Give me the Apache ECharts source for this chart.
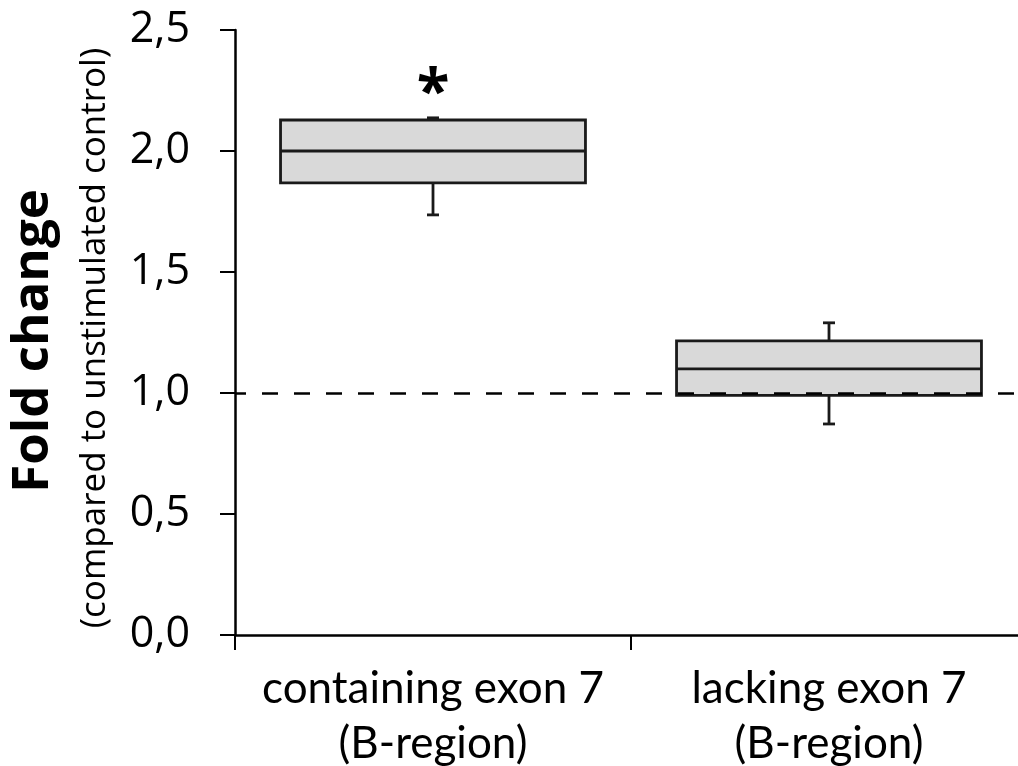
<!DOCTYPE html>
<html>
<head>
<meta charset="utf-8">
<script src="https://cdn.jsdelivr.net/npm/echarts@6/dist/echarts.min.js"></script>
<style>html,body{margin:0;padding:0;background:#fff}#c{width:1018px;height:766px}</style>
</head>
<body>
<div id="c"></div>
<script>
const categories = ['containing exon 7\n(B-region)', 'lacking exon 7\n(B-region)'];
const whiskerLow  = [1.736, 0.872];
const q1          = [1.868, 0.990];
const median      = [2.000, 1.100];
const q3          = [2.128, 1.215];
const whiskerHigh = [2.137, 1.290];
const significance = ['*', ''];
const yMin = 0, yMax = 2.5, yInterval = 0.5;
const referenceLine = 1.0;

const data = categories.map((c, i) => [i, whiskerLow[i], q1[i], median[i], q3[i], whiskerHigh[i]]);

const chart = echarts.init(document.getElementById('c'));
chart.setOption({
  animation: false,
  grid: { left: 235, top: 30, right: -9, bottom: 131, containLabel: false, outerBoundsMode: 'none' },
  xAxis: {
    type: 'category',
    data: categories,
    boundaryGap: true,
    axisLine: { lineStyle: { color: '#000', width: 2.5 } },
    axisTick: { show: true, length: 15, alignWithLabel: false, lineStyle: { color: '#000', width: 2 } },
    axisLabel: { color: '#000', fontFamily: 'Lato', fontSize: 44, lineHeight: 55, margin: 26, interval: 0 },
    splitLine: { show: false }
  },
  yAxis: {
    type: 'value',
    min: yMin, max: yMax, interval: yInterval,
    axisLine: { show: true, lineStyle: { color: '#000', width: 2.5 } },
    axisTick: { show: true, length: 15, lineStyle: { color: '#000', width: 2 } },
    axisLabel: { color: '#000', fontFamily: 'Open Sans', fontSize: 43, margin: 45,
      formatter: v => v.toFixed(1).replace('.', ',') },
    splitLine: { show: false }
  },
  graphic: [
    { type: 'text', x: 33, y: 341, rotation: Math.PI / 2,
      style: { text: 'Fold change', font: 'bold 51px "Open Sans"', fill: '#000', textAlign: 'center', textVerticalAlign: 'middle' } },
    { type: 'text', x: 95, y: 338, rotation: Math.PI / 2,
      style: { text: '(compared to unstimulated control)', font: '35px "Open Sans"', fill: '#000', textAlign: 'center', textVerticalAlign: 'middle' } }
  ],
  series: [{
    type: 'custom',
    data: data,
    clip: false,
    encode: { x: 0, y: [1, 2, 3, 4, 5] },
    renderItem: function (params, api) {
      const i = api.value(0);
      const cx = api.coord([i, 0])[0];
      const w = api.size([1, 0])[0] * 0.77;
      const yLow = api.coord([i, api.value(1)])[1];
      const yQ1 = api.coord([i, api.value(2)])[1];
      const yMed = api.coord([i, api.value(3)])[1];
      const yQ3 = api.coord([i, api.value(4)])[1];
      const yHigh = api.coord([i, api.value(5)])[1];
      const cap = 6;
      const ls = { stroke: '#1a1a1a', lineWidth: 2.8 };
      return {
        type: 'group',
        children: [
          { type: 'line', shape: { x1: cx, y1: yQ3, x2: cx, y2: yHigh }, style: ls },
          { type: 'line', shape: { x1: cx - cap, y1: yHigh, x2: cx + cap, y2: yHigh }, style: ls },
          { type: 'line', shape: { x1: cx, y1: yQ1, x2: cx, y2: yLow }, style: ls },
          { type: 'line', shape: { x1: cx - cap, y1: yLow, x2: cx + cap, y2: yLow }, style: ls },
          { type: 'rect', shape: { x: cx - w / 2, y: yQ3, width: w, height: yQ1 - yQ3 },
            style: { fill: '#d9d9d9', stroke: '#1a1a1a', lineWidth: 2.8 } },
          { type: 'line', shape: { x1: cx - w / 2, y1: yMed, x2: cx + w / 2, y2: yMed }, style: ls },
          { type: 'text', style: { text: significance[i], x: cx, y: yHigh - 23,
            textAlign: 'center', textVerticalAlign: 'middle', font: 'bold 60px "Open Sans"', fill: '#000' } }
        ]
      };
    },
    markLine: {
      silent: true,
      symbol: 'none',
      label: { show: false },
      lineStyle: { color: '#000', width: 2.5, type: [16, 16], dashOffset: 5 },
      data: [{ yAxis: referenceLine }]
    }
  }]
});
</script>
</body>
</html>
